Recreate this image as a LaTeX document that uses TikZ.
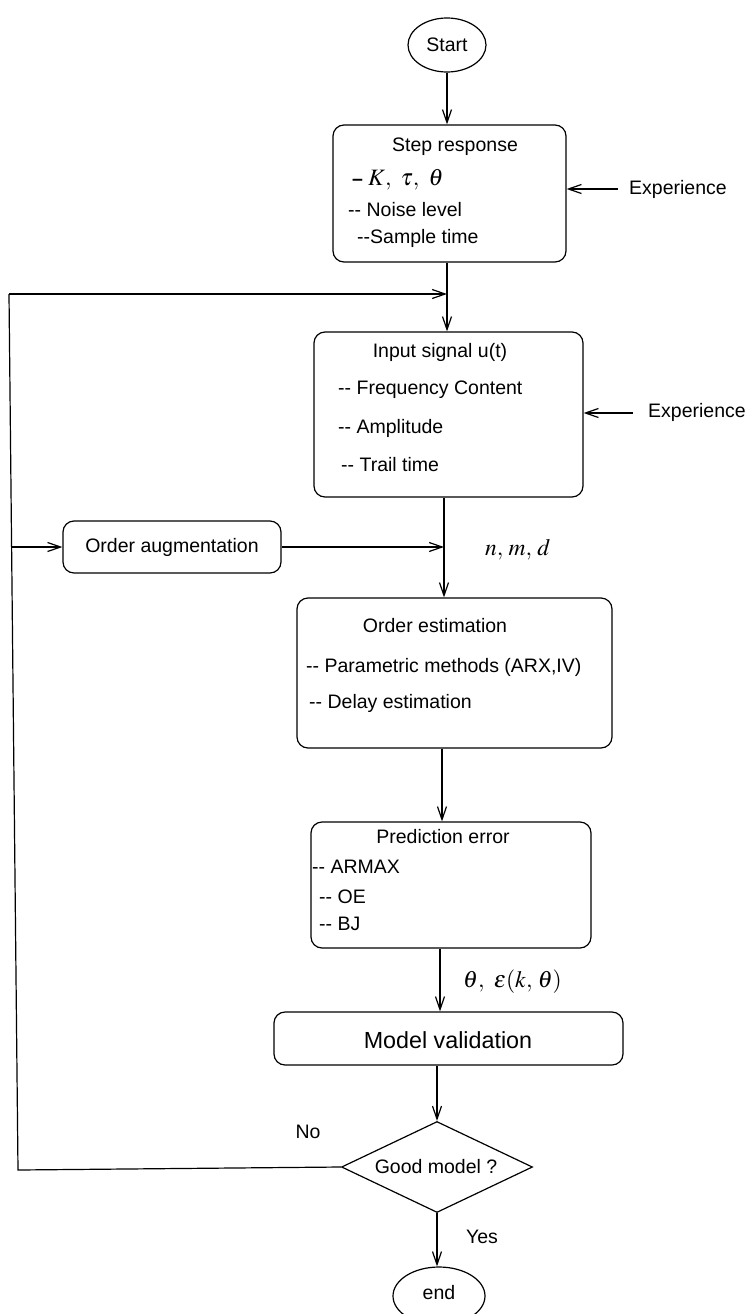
\documentclass[tikz,border=0pt]{standalone}
\usepackage{mathptmx}
\usepackage{fontspec}
\setmainfont{Liberation Sans}
\usetikzlibrary{arrows.meta,shapes.geometric,calc}
\tikzset{
  base/.style={line width=1.2pt},
  arr/.style={base,-{Straight Barb[length=13pt,width=9pt,line width=1.2pt]}},
  stepbox/.style={base,draw,rounded corners=11pt,inner sep=0pt},
  txt/.style={inner sep=0pt,font=\fontsize{19.5}{23}\selectfont},
  ltxt/.style={txt,anchor=west},
  mtxt/.style={ltxt,font=\fontsize{23.5}{27}\selectfont},
  term/.style={base,draw,ellipse,inner sep=0pt},
}
\newcommand{\dd}{-{}-}
\begin{document}
\begin{tikzpicture}[x=1pt,y=-1pt]
\useasboundingbox (0,0) rectangle (750,1314);

% terminals
\node[term,minimum width=78pt,minimum height=54pt] (start) at (447,45) {};
\node[txt] (starttxt) at (447,45) {Start};
\node[term,minimum width=92pt,minimum height=58pt] (end) at (439,1296) {};
\node[txt] (endtxt) at (439,1293) {end};

% step response
\node[stepbox,minimum width=233pt,minimum height=137pt] (step) at (449.5,193.5) {};
\node[txt] (stept) at (455,147) {Step response};
\node[ltxt] (step1) at (352,180) {\textbf{--}\hspace{5pt}{\fontsize{23.5}{27}\selectfont$K,\ \tau,\ \theta$}};
\node[ltxt] (step2) at (348,210) {\dd{} Noise level};
\node[ltxt] (step3) at (357,238) {\dd Sample time};
\node[ltxt] (exp1) at (629,189) {Experience};

% input signal
\node[stepbox,minimum width=269pt,minimum height=165pt] (input) at (448.5,414.5) {};
\node[txt] (inputt) at (440,352) {Input signal u(t)};
\node[ltxt] (in1) at (338,390) {\dd{} Frequency Content};
\node[ltxt] (in2) at (338,428) {\dd{} Amplitude};
\node[ltxt] (in3) at (341,465) {\dd{} Trail time};
\node[ltxt] (exp2) at (648,412) {Experience};

% order augmentation
\node[stepbox,minimum width=218pt,minimum height=52pt] (aug) at (172,547) {};
\node[txt] (augt) at (172,547) {Order augmentation};
\node[mtxt] (nmd) at (485,550) {$n,\, m,\, d$};

% order estimation
\node[stepbox,minimum width=315pt,minimum height=150pt] (ordest) at (454.5,673) {};
\node[txt] (ordestt) at (435,626) {Order estimation};
\node[ltxt] (oe1) at (306,667) {\dd{} Parametric methods (ARX,IV)};
\node[ltxt] (oe2) at (309,703) {\dd{} Delay estimation};

% prediction error
\node[stepbox,minimum width=280pt,minimum height=126pt] (pred) at (451,885) {};
\node[txt] (predt) at (443,837) {Prediction error};
\node[ltxt] (pe1) at (312,867) {\dd{} ARMAX};
\node[ltxt] (pe2) at (319,897) {\dd{} OE};
\node[ltxt] (pe3) at (319,924) {\dd{} BJ};
\node[mtxt] (theta) at (463,982) {$\theta,\ \varepsilon(k,\,\theta)$};

% model validation
\node[stepbox,minimum width=349pt,minimum height=53pt] (val) at (448.5,1038.5) {};
\node[txt,font=\fontsize{23.3}{27}\selectfont] (valt) at (448,1040) {Model validation};

% decision
\node[base,draw,diamond,inner sep=0pt,minimum width=191pt,minimum height=91pt] (good) at (437,1167) {};
\node[txt] (goodt) at (436,1167) {Good model ?};
\node[txt] (no) at (308,1132) {No};
\node[txt] (yes) at (482,1237) {Yes};

% main flow
\coordinate (fbtop) at (447,294);
\coordinate (j1) at (444,547);
\draw[arr] (start.south) -- (start.south |- step.north);
\draw[arr] (step.south -| fbtop) -- (input.north -| fbtop);
\draw[arr] (input.south -| j1) -- (ordest.north -| j1);
\draw[arr] (ordest.south -| 442,0) -- (pred.north -| 442,0);
\draw[arr] (pred.south -| 440,0) -- (val.north -| 440,0);
\draw[arr] (val.south -| good.north) -- (good.north);
\draw[arr] (good.south) -- (end.north -| good.south);

% experience inputs
\coordinate (e2) at (633,413);
\draw[arr] ([xshift=-11pt]exp1.west) -- (exp1.west -| step.east);
\draw[arr] (e2) -- (e2 -| input.east);

% feedback loop
\coordinate (fbbot) at (18,1170);
\coordinate (fbleft) at (9,294);
\coordinate (fbmid) at (11.6,547);
\draw[base] (good.west) -- (fbbot) -- (fbleft);
\draw[arr] (fbleft) -- (fbtop);
\draw[arr] (fbmid) -- (aug.west);
\draw[arr] (aug.east) -- (j1);
\end{tikzpicture}
\end{document}
